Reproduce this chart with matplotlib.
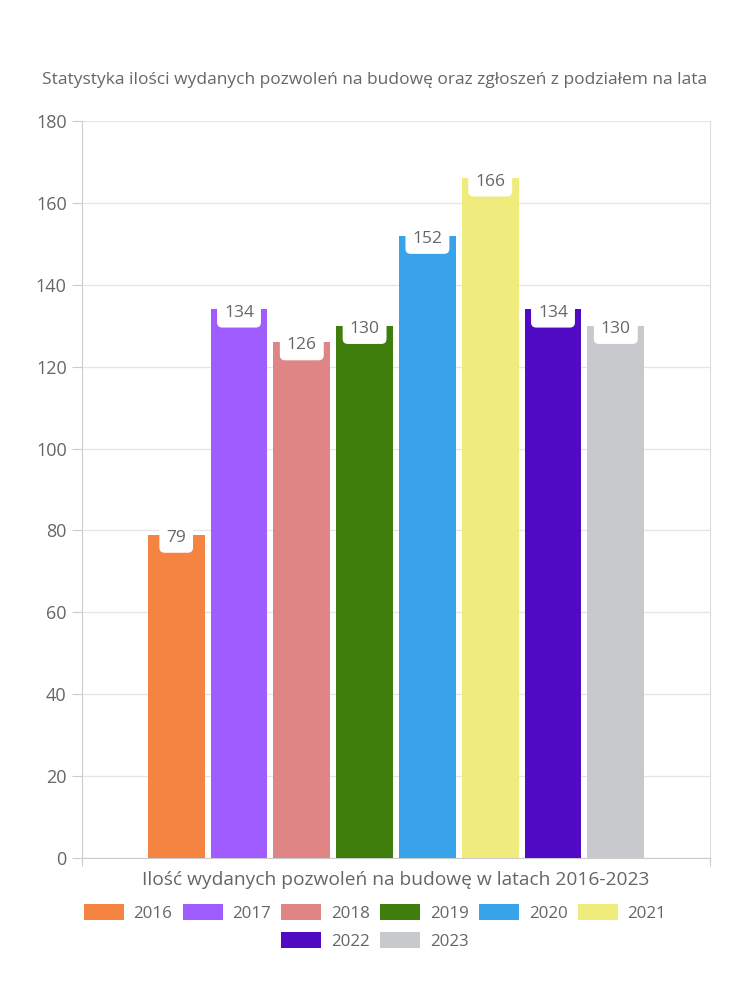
import matplotlib
matplotlib.use("Agg")
import matplotlib.pyplot as plt
from matplotlib.patches import Patch

years = ["2016", "2017", "2018", "2019", "2020", "2021", "2022", "2023"]
values = [79, 134, 126, 130, 152, 166, 134, 130]
colors = ["#F58442", "#A05CFF", "#E08585", "#3F7D0C",
          "#38A3EB", "#F0EB7D", "#520BC4", "#C8C9CD"]
yticks = [0, 20, 40, 60, 80, 100, 120, 140, 160, 180]

title = "Statystyka ilości wydanych pozwoleń na budowę oraz zgłoszeń z podziałem na lata"
xlabel = "Ilość wydanych pozwoleń na budowę w latach 2016-2023"

plt.rcParams["font.family"] = ["Open Sans", "DejaVu Sans"]
txt_color = "#666666"

fig = plt.figure(figsize=(7.5, 10), dpi=100)
# plot area: x 82..710, y 121..858 (pixels)
ax = fig.add_axes([82 / 750, 1 - 858 / 1000, 628 / 750, 737 / 1000])

n = len(values)
step = 0.8 / n
width = step * 57 / 63
xs = [-0.4 + step * (i + 0.5) for i in range(n)]

ax.bar(xs, values, width=width, color=colors, zorder=3)

# value labels sit in a white rounded box cut into the bar top
for x, v in zip(xs, values):
    ax.text(x, v - 0.8, str(v), ha="center", va="center", fontsize=12.5,
            color=txt_color, zorder=4,
            bbox=dict(boxstyle="round,pad=0.4,rounding_size=0.3",
                      fc="white", ec="none"))

ax.set_xlim(-0.5, 0.5)
ax.set_ylim(0, 180)
ax.set_yticks(yticks)
ax.set_yticklabels([str(t) for t in yticks], fontsize=13, color=txt_color)
ax.set_xticks([-0.5, 0.5])
ax.set_xticklabels(["", ""])
ax.tick_params(axis="y", length=7, color="#cccccc", pad=4)
ax.tick_params(axis="x", length=6, color="#cccccc")
ax.grid(axis="y", color="#e6e6e6", linewidth=1, zorder=0)
ax.spines["right"].set_color("#dddddd")
ax.spines["left"].set_color("#cccccc")
ax.spines["bottom"].set_color("#cccccc")
ax.spines["top"].set_visible(False)

fig.text(375 / 750, 1 - 80 / 1000, title, ha="center", va="center",
         fontsize=12.5, color=txt_color)
fig.text(396 / 750, 1 - 880 / 1000, xlabel, ha="center", va="center",
         fontsize=13.8, color=txt_color)

handles = [Patch(facecolor=c, edgecolor="none") for c in colors]
leg_kw = dict(ncol=6, loc="center", frameon=False, fontsize=12.2,
              handlelength=2.36, handleheight=1.06, columnspacing=0.6,
              handletextpad=0.58, labelcolor=txt_color)
fig.legend(handles[:6], years[:6],
           bbox_to_anchor=(375 / 750, 1 - 913 / 1000), **leg_kw)
leg_kw["ncol"] = 2
fig.legend(handles[6:], years[6:],
           bbox_to_anchor=(375 / 750, 1 - 941 / 1000), **leg_kw)

fig.savefig("out.png", dpi=100)
